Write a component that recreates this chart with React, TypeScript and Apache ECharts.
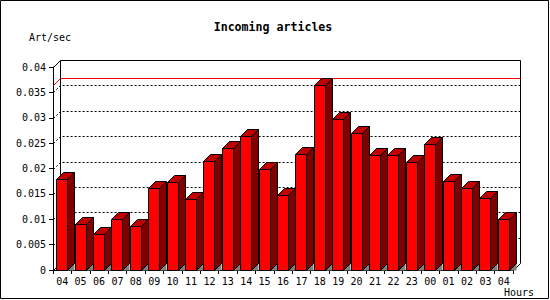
import React, { useEffect, useRef } from "react";
import * as echarts from "echarts";

const categories = ["04","05","06","07","08","09","10","11","12","13","14","15","16","17","18","19","20","21","22","23","00","01","02","03","04"];
const values = [0.0179,0.0090,0.0070,0.0100,0.0086,0.0161,0.0173,0.0140,0.0215,0.0240,0.0265,0.0199,0.0148,0.0229,0.0365,0.0298,0.0270,0.0227,0.0227,0.0213,0.0248,0.0175,0.0161,0.0142,0.0100];
const gridValues = [0.005,0.01,0.015,0.02,0.025,0.03,0.035];
const yMax = 0.04;
const yStep = 0.005;

const DEPTH = 7;
const FONT = "'DejaVu Sans Mono', monospace";

export default function App() {
  const ref = useRef<HTMLDivElement>(null);
  useEffect(() => {
    const chart = echarts.init(ref.current!, null, { renderer: "svg" });
    const maxVal = Math.max(...values);

    const wallRender = (params: any, api: any) => {
      const cs = params.coordSys;
      const L = Math.round(cs.x) + 0.5;
      const R = Math.round(cs.x + cs.width) + 0.5;
      const T = Math.round(cs.y) + 0.5;
      const B = Math.round(cs.y + cs.height) + 0.5;
      const children: any[] = [];
      // back wall frame
      children.push({ type: "polyline", shape: { points: [[L + DEPTH, B - DEPTH], [L + DEPTH, T - DEPTH], [R + DEPTH, T - DEPTH], [R + DEPTH, B - DEPTH], [R, B]] }, style: { stroke: "#000", fill: null, lineWidth: 1 } });
      children.push({ type: "line", shape: { x1: L, y1: T, x2: L + DEPTH, y2: T - DEPTH }, style: { stroke: "#000", lineWidth: 1 } });
      children.push({ type: "line", shape: { x1: L, y1: B, x2: L + DEPTH, y2: B - DEPTH }, style: { stroke: "#000", lineWidth: 1 } });
      // dotted grid lines
      gridValues.forEach((v) => {
        const y = Math.round(api.coord([0, v])[1]) + 0.5;
        children.push({ type: "polyline", shape: { points: [[L, y], [L + DEPTH, y - DEPTH], [R + DEPTH, y - DEPTH]] }, style: { stroke: "#000", fill: null, lineWidth: 1, lineDash: [2, 2] } });
      });
      // max line
      const ym = Math.round(api.coord([0, maxVal])[1]) + 0.5;
      children.push({ type: "polyline", shape: { points: [[L, ym], [L + DEPTH, ym - DEPTH], [R + DEPTH, ym - DEPTH]] }, style: { stroke: "#ff0000", fill: null, lineWidth: 1 } });
      return { type: "group", children };
    };

    const barRender = (params: any, api: any) => {
      const idx = api.value(0);
      const v = api.value(1);
      const [cx, yt0] = api.coord([idx, v]);
      const y00 = api.coord([idx, 0])[1];
      const w = api.size([1, 0])[0] * 0.6;
      const xl = Math.floor(cx - w / 2) + 0.5;
      const xr = Math.floor(cx + w / 2) + 0.5;
      const yt = Math.round(yt0) + 0.5;
      const y0 = Math.round(y00) + 0.5;
      const d = DEPTH;
      return {
        type: "group",
        children: [
          { type: "polygon", shape: { points: [[xr, y0], [xr + d, y0 - d], [xr + d, y0]] }, style: { fill: "#808080", stroke: null } },
          { type: "polygon", shape: { points: [[xr, yt], [xr + d, yt - d], [xr + d, y0 - d], [xr, y0]] }, style: { fill: "#800000", stroke: "#000", lineWidth: 1 } },
          { type: "polygon", shape: { points: [[xl, yt], [xl + d, yt - d], [xr + d, yt - d], [xr, yt]] }, style: { fill: "#c00000", stroke: "#000", lineWidth: 1 } },
          { type: "rect", shape: { x: xl, y: yt, width: xr - xl, height: y0 - yt }, style: { fill: "#ff0000", stroke: "#000", lineWidth: 1 } },
        ],
      };
    };

    chart.setOption({
      animation: false,
      backgroundColor: "#fff",
      grid: { left: 53, right: 37, top: 67, bottom: 30, containLabel: false },
      xAxis: {
        type: "category",
        data: categories,
        boundaryGap: true,
        axisLine: { show: true, lineStyle: { color: "#000", width: 1 } },
        axisTick: { show: true, length: 4, lineStyle: { color: "#000" } },
        axisLabel: { color: "#000", fontFamily: FONT, fontSize: 10, margin: 6, interval: 0 },
        splitLine: { show: false },
      },
      yAxis: {
        type: "value",
        min: 0,
        max: yMax,
        interval: yStep,
        axisLine: { show: true, lineStyle: { color: "#000", width: 1 } },
        axisTick: { show: true, length: 4, lineStyle: { color: "#000" } },
        axisLabel: { color: "#000", fontFamily: FONT, fontSize: 10, margin: 7, formatter: (v: number) => String(+v.toFixed(4)) },
        splitLine: { show: false },
      },
      series: [
        { type: "custom", clip: false, z: 1, data: [[0, 0]], renderItem: wallRender, silent: true },
        { type: "custom", clip: false, z: 3, data: values.map((v, i) => [i, v]), encode: { x: 0, y: 1 }, renderItem: barRender },
      ],
      graphic: [
        { type: "rect", shape: { x: 0.5, y: 0.5, width: 548, height: 298 }, style: { fill: null, stroke: "#000", lineWidth: 1 }, z: 10 },
        { type: "text", x: 273, y: 27, style: { text: "Incoming articles", font: `bold 11.6px ${FONT}`, fill: "#000", textAlign: "center", textVerticalAlign: "middle" } },
        { type: "text", x: 29, y: 37, style: { text: "Art/sec", font: `10px ${FONT}`, fill: "#000", textAlign: "left", textVerticalAlign: "middle" } },
        { type: "text", x: 504, y: 292, style: { text: "Hours", font: `10px ${FONT}`, fill: "#000", textAlign: "left", textVerticalAlign: "middle" } },
      ],
    });
    return () => chart.dispose();
  }, []);
  return <div ref={ref} style={{ position: "fixed", left: 0, top: 0, width: 550, height: 300, background: "#fff" }} />;
}
